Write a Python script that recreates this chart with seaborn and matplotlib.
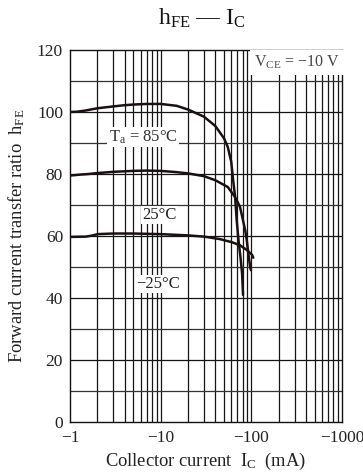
import numpy as np
import pandas as pd
import matplotlib
matplotlib.use("Agg")
import matplotlib.pyplot as plt
import seaborn as sns

# Collector current (mA, negative for PNP) and DC current gain per ambient temperature
ic_85 = [-1, -1.2, -1.5, -2, -3, -4, -5, -7, -10, -15, -20, -30, -40, -50, -55,
         -60, -63, -66, -69, -72, -76, -79, -81]
hfe_85 = [100, 100.1, 100.5, 101.2, 101.8, 102.2, 102.4, 102.6, 102.6, 102.0, 100.8,
          98.5, 95.5, 91.5, 88.7, 84, 78, 73, 65, 59, 53, 48, 41]

ic_25 = [-1, -1.3, -1.6, -2, -3, -5, -7, -10, -15, -20, -30, -40, -55, -66, -75,
         -81, -86, -89, -93, -97, -99]
hfe_25 = [79.5, 79.8, 80.0, 80.3, 80.7, 81.0, 81.1, 81.0, 80.6, 80.2, 79.3, 78.0,
          75.8, 72.6, 69.4, 65.0, 61.5, 58.7, 54.0, 50.0, 49.0]

ic_m25 = [-1, -1.5, -1.8, -2, -3, -5, -10, -20, -30, -45, -61, -75, -89, -102, -105]
hfe_m25 = [59.7, 59.8, 60.2, 60.6, 60.8, 60.8, 60.6, 60.2, 59.8, 59.0, 58.0, 57.0,
           55.5, 53.9, 53.0]

x_ticks = [-1, -10, -100, -1000]
x_ticklabels = ["\u22121", "\u221210", "\u2212100", "\u22121000"]
y_ticks = [0, 20, 40, 60, 80, 100, 120]

sns.set_theme(style="white")
plt.rcParams["font.family"] = ["Liberation Serif", "DejaVu Serif"]
plt.rcParams["mathtext.fontset"] = "custom"
plt.rcParams["mathtext.rm"] = "Liberation Serif"
plt.rcParams["mathtext.it"] = "Liberation Serif:italic"

frames = []
for label, ic, h in [("85", ic_85, hfe_85), ("25", ic_25, hfe_25), ("-25", ic_m25, hfe_m25)]:
    frames.append(pd.DataFrame({"ic": ic, "hfe": h, "ta": label}))
df = pd.concat(frames, ignore_index=True)
df["mag"] = -df["ic"]

fig = plt.figure(figsize=(3.63, 4.74), dpi=100)
ax = fig.add_axes([70 / 363, 1 - 422 / 474, 272 / 363, 372 / 474])

# grid: decades with 1..9 subdivisions, every 10 on the gain axis
for dec in [1, 10, 100]:
    for k in range(1, 10):
        v = dec * k
        if v > 1:
            ax.axvline(v, color="#151515", lw=0.9, zorder=1)
for yv in range(10, 120, 10):
    ax.axhline(yv, color="#151515" if yv % 20 == 0 else "#333333", lw=0.9, zorder=1)

sns.lineplot(data=df, x="mag", y="hfe", hue="ta", palette=["#1a1010"] * 3,
             sort=False, estimator=None, lw=1.8, legend=False, ax=ax, zorder=3)

ax.set_xscale("log")
ax.set_xlim(1, 1000)
ax.set_ylim(0, 120)
ax.set_xticks([-v for v in x_ticks])
ax.set_xticklabels(x_ticklabels)
ax.xaxis.set_minor_locator(matplotlib.ticker.NullLocator())
ax.set_yticks(y_ticks)
ax.tick_params(axis="both", length=0, labelsize=12.5, colors="#222222")
ax.tick_params(axis="x", pad=6)
ax.tick_params(axis="y", pad=5)
for s in ax.spines.values():
    s.set_color("#111111")
    s.set_linewidth(1.0)

ax.set_xlabel(r"Collector current  I$_\mathrm{C}$  (mA)", fontsize=13.3, color="#222222", labelpad=3)
ax.set_ylabel(r"Forward current transfer ratio  h$_\mathrm{FE}$", fontsize=13.3,
              color="#222222", labelpad=7)
fig.text(202 / 363, 1 - 18 / 474, r"h$_\mathrm{FE}$ — I$_\mathrm{C}$", ha="center",
         va="center", fontsize=17, color="#111111")

box = dict(facecolor="white", edgecolor="none", pad=1.0)
ax.text(6.4, 92, r"T$_\mathrm{a}$ = 85°C", ha="center", va="center", fontsize=12,
        color="#333333", bbox=box, zorder=4)
ax.text(9.8, 66.8, "25°C", ha="center", va="center", fontsize=12, color="#222222",
        bbox=box, zorder=4)
ax.text(9.3, 44.5, "\u221225°C", ha="center", va="center", fontsize=12, color="#222222",
        bbox=box, zorder=4)
ax.text(320, 116, r"V$_\mathrm{CE}$ = $-$10 V", ha="center", va="center", fontsize=11.5,
        color="#444444", bbox=dict(facecolor="white", edgecolor="none", pad=3), zorder=4)

fig.savefig("out.png", dpi=100)
